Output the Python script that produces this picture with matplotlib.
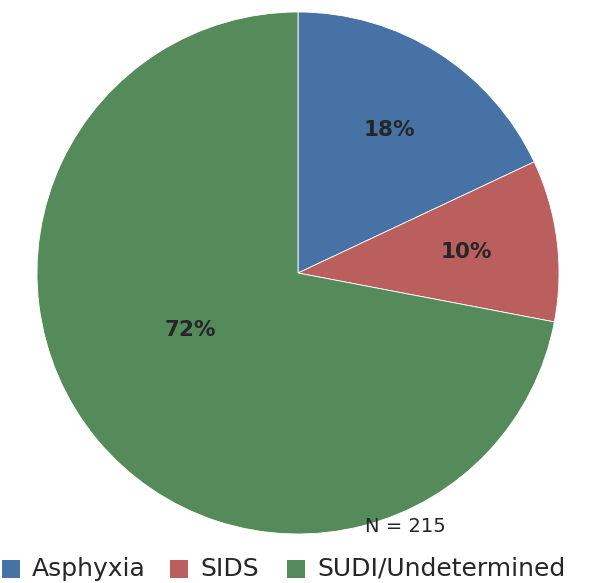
import matplotlib
matplotlib.use("Agg")
import matplotlib.pyplot as plt
from matplotlib.patches import Rectangle

labels = ["Asphyxia", "SIDS", "SUDI/Undetermined"]
shares = [18, 10, 72]
colors = ["#4672A5", "#BB5E5E", "#558B5A"]
total_n = 215

plt.rcParams["font.family"] = ["DejaVu Sans"]

fig = plt.figure(figsize=(5.99, 5.83), dpi=100)
ax = fig.add_axes([0, 0, 1, 1])

wedges, texts, autotexts = ax.pie(
    shares, colors=colors, startangle=90, counterclock=False,
    center=(298, 310), radius=261, autopct="%d%%", pctdistance=0.65,
    wedgeprops=dict(edgecolor="white", linewidth=0.6),
    textprops=dict(color="#262626", fontsize=15.5, fontweight="bold"),
    frame=True,
)
ax.axis("off")
ax.set_xlim(0, 599)
ax.set_ylim(0, 583)
ax.set_aspect("equal")
# the big slice reads better a bit closer to the middle
autotexts[2].set_position((190, 253))

ax.text(405, 56, f"N = {total_n}", fontsize=14, color="#262626",
        ha="center", va="center")

# legend row along the bottom edge
key_x = [2, 170, 287]
for x, lab, w in zip(key_x, labels, wedges):
    ax.add_patch(Rectangle((x, 5), 18, 18, facecolor=w.get_facecolor(),
                           edgecolor="none"))
    ax.text(x + 30, 7, lab, fontsize=18, color="#262626",
            ha="left", va="baseline")

fig.savefig("out.png", dpi=100)
